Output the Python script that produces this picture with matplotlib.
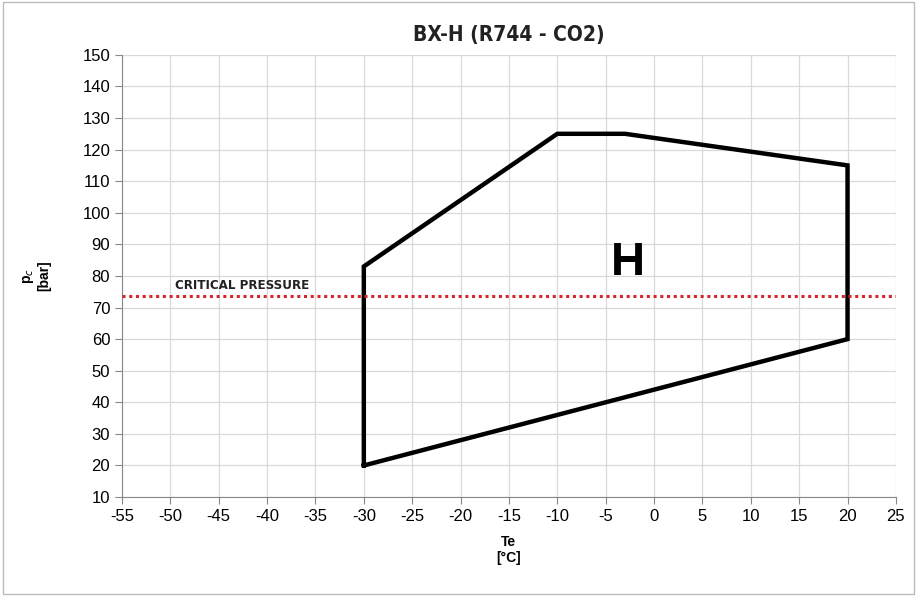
import matplotlib
matplotlib.use("Agg")
import matplotlib.pyplot as plt

# -------------------------------------------------------------
# Data
# -------------------------------------------------------------
te_envelope = [-30, -30, -10, -3, 20, 20, -30]
pc_envelope = [20, 83, 125, 125, 115, 60, 20]
critical_pressure = 73.8
x_ticks = list(range(-55, 26, 5))
y_ticks = list(range(10, 151, 10))

plt.rcParams['font.family'] = ['Liberation Sans', 'DejaVu Sans']
plt.rcParams['axes.unicode_minus'] = False

fig = plt.figure(figsize=(9.17, 5.96), dpi=100)
ax = fig.add_axes([0.133, 0.166, 0.844, 0.742])

ax.plot(te_envelope, pc_envelope, color='black', lw=3.2, solid_joinstyle='miter', zorder=3)
ax.axhline(critical_pressure, color='#d7262b', lw=2.2, ls=(0, (1, 1.2)), zorder=4)

ax.text(-49.5, critical_pressure + 1.2, "CRITICAL PRESSURE", fontsize=9.5, fontweight='bold',
        family='DejaVu Sans', fontstretch='condensed', color='#222222', va='bottom')
ax.text(-2.7, 84, "H", fontsize=34, fontweight='bold', color='black', ha='center', va='center')

ax.set_xlim(-55, 25)
ax.set_ylim(10, 150)
ax.set_xticks(x_ticks)
ax.set_yticks(y_ticks)
ax.tick_params(labelsize=12, direction='out', length=5, color='#888888')
ax.grid(True, color='#d9d9d9', lw=0.9)
ax.set_axisbelow(True)
for side in ['top', 'right']:
    ax.spines[side].set_visible(False)
for side in ['left', 'bottom']:
    ax.spines[side].set_color('#888888')

ax.set_title("BX-H (R744 - CO2)", fontsize=15, fontweight='bold',
             family='DejaVu Sans', fontstretch='condensed', color='#222222', pad=10)
ax.set_xlabel("Te\n[°C]", fontsize=10, fontweight='bold', labelpad=8)
ax.set_ylabel("p$_c$\n[bar]", fontsize=10, fontweight='bold', labelpad=22)

border = plt.Rectangle((0.003, 0.003), 0.994, 0.994, transform=fig.transFigure,
                       fill=False, edgecolor='#bbbbbb', lw=1)
fig.patches.append(border)

fig.savefig("out.png", dpi=100)
